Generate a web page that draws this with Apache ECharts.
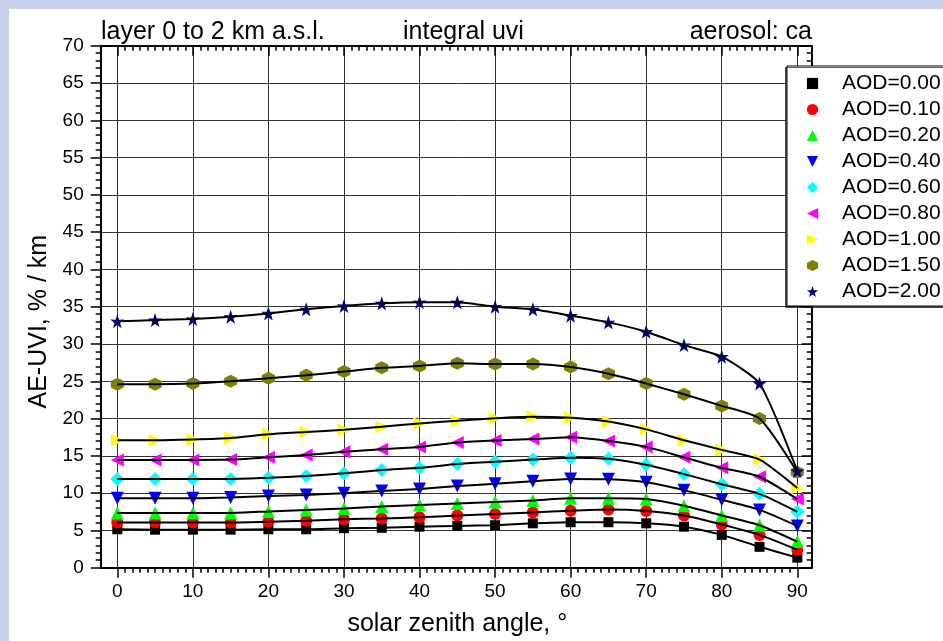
<!DOCTYPE html>
<html><head><meta charset="utf-8">
<script src="https://cdn.jsdelivr.net/npm/echarts@6/dist/echarts.min.js"></script>
<style>
html,body{margin:0;padding:0;background:#c8d0ec;}
#panel{position:absolute;left:9px;top:9px;width:934px;height:632px;background:#fff;}
#chart{position:absolute;left:0;top:0;width:943px;height:641px;}
</style></head><body>
<div id="panel"></div><div id="chart"></div>
<script>
// ---- data ----
const sza = [0,5,10,15,20,25,30,35,40,45,50,55,60,65,70,75,80,85,90];
const aod000 = [5.15,5.1,5.1,5.1,5.15,5.15,5.3,5.35,5.5,5.6,5.7,5.95,6.1,6.1,5.95,5.5,4.4,2.8,1.35];
const aod010 = [6.05,6.05,6.05,6.05,6.15,6.3,6.5,6.6,6.75,7.0,7.2,7.4,7.65,7.8,7.6,7.0,5.8,4.4,2.4];
const aod020 = [7.35,7.35,7.35,7.35,7.55,7.75,7.95,8.2,8.4,8.6,8.8,9.0,9.3,9.3,9.2,8.3,7.0,5.7,3.5];
const aod040 = [9.3,9.3,9.3,9.4,9.6,9.75,10.0,10.3,10.55,10.95,11.25,11.6,11.9,11.85,11.45,10.4,9.1,7.75,5.6];
const aod060 = [11.9,11.9,11.9,11.9,12.05,12.3,12.65,13.1,13.4,13.9,14.2,14.5,14.75,14.6,13.8,12.55,11.2,9.9,7.5];
const aod080 = [14.45,14.45,14.45,14.5,14.8,15.1,15.55,15.9,16.2,16.8,17.05,17.25,17.5,17.0,16.2,14.8,13.4,12.2,9.2];
const aod100 = [17.1,17.1,17.2,17.4,17.9,18.2,18.5,18.9,19.35,19.7,20.05,20.25,20.1,19.6,18.55,17.1,15.8,14.5,10.7];
const aod150 = [24.6,24.6,24.7,25.0,25.4,25.8,26.3,26.8,27.05,27.4,27.3,27.3,26.9,26.0,24.7,23.25,21.7,20.0,12.8];
const aod200 = [33.05,33.2,33.35,33.65,34.1,34.65,35.1,35.45,35.6,35.6,35.0,34.65,33.8,32.9,31.65,29.85,28.3,24.7,12.95];
const seriesNames = ['AOD=0.00','AOD=0.10','AOD=0.20','AOD=0.40','AOD=0.60','AOD=0.80','AOD=1.00','AOD=1.50','AOD=2.00'];
const topTexts = ['layer 0 to 2 km a.s.l.','integral uvi','aerosol: ca'];
const xTitle = 'solar zenith angle, \u00b0';
const yTitle = 'AE-UVI, % / km';

// ---- styles ----
const FONT = '"Liberation Sans", Arial, sans-serif';
const HEX = 'path://M50,0 L93.3,25 L93.3,75 L50,100 L6.7,75 L6.7,25 Z';
const STAR = 'path://M50,0 L61.8,35.1 L97.6,34.5 L69.1,56.7 L79.4,90.5 L50,70 L20.6,90.5 L30.9,56.7 L2.4,34.5 L38.2,35.1 Z';
const values = [aod000,aod010,aod020,aod040,aod060,aod080,aod100,aod150,aod200];
const styles = [
  {color:'#000000', symbol:'rect', size:10, rot:0},
  {color:'#ff0000', symbol:'circle', size:12, rot:0},
  {color:'#00ff00', symbol:'triangle', size:13, rot:0},
  {color:'#0000ff', symbol:'triangle', size:13, rot:180},
  {color:'#00ffff', symbol:'diamond', size:14, rot:0},
  {color:'#ff00ff', symbol:'triangle', size:13, rot:90},
  {color:'#ffff00', symbol:'triangle', size:13, rot:-90},
  {color:'#808000', symbol:HEX, size:13, rot:0},
  {color:'#000080', symbol:STAR, size:14, rot:0}
];

const series = [];
values.forEach((vals, i) => {
  const pts = sza.map((x, j) => [x, vals[j]]);
  const st = styles[i];
  series.push({
    name: seriesNames[i], type:'line', xAxisIndex:0, yAxisIndex:0, data: pts,
    symbol: st.symbol, symbolSize: st.size, symbolRotate: st.rot, showAllSymbol:true,
    itemStyle:{color: st.color, borderWidth:0},
    lineStyle:{opacity:0, width:0.1, color: st.color},
    z:2, silent:true, animation:false
  });
});
values.forEach((vals, i) => {
  const pts = sza.map((x, j) => [x, vals[j]]);
  series.push({
    name: 'fit ' + seriesNames[i], type:'line', xAxisIndex:0, yAxisIndex:0, data: pts,
    showSymbol:false, smooth:0.2,
    lineStyle:{color:'#000', width:2},
    itemStyle:{color:'#000'},
    z:3, silent:true, animation:false
  });
});

const GRID = {top:45.7, bottom:641-567.7, outerBoundsMode:'none'};
const txt = {color:'#000', fontFamily:FONT};

const option = {
  animation:false,
  backgroundColor:'transparent',
  title: [
    {text: topTexts[0], left:101, top:20, padding:0, textStyle:Object.assign({fontSize:25, fontWeight:'normal'}, txt)},
    {text: topTexts[1], left:403, top:20, padding:0, textStyle:Object.assign({fontSize:25, fontWeight:'normal'}, txt)},
    {text: topTexts[2], right:131, top:20, padding:0, textStyle:Object.assign({fontSize:25, fontWeight:'normal'}, txt)}
  ],
  grid: [
    Object.assign({left:117.3, right:943-797.3}, GRID),
    Object.assign({left:100.7, right:943-811.7}, GRID)
  ],
  legend: {
    data: seriesNames, left:787, top:66, orient:'vertical',
    padding:[7,10,4,0], itemGap:5, itemWidth:49, itemHeight:14,
    backgroundColor:'#fff', borderColor:'#000', borderWidth:1,
    shadowColor:'rgba(0,0,0,0.6)', shadowOffsetX:-1.5, shadowOffsetY:1.5, shadowBlur:0,
    selectedMode:false, lineStyle:{opacity:0},
    textStyle:Object.assign({fontSize:21, lineHeight:21}, txt), z:10
  },
  xAxis: [
    { // data axis bottom
      type:'value', gridIndex:0, position:'bottom', min:0, max:90, interval:10,
      axisLine:{show:false},
      axisTick:{show:true, inside:false, length:10, lineStyle:{color:'#000', width:1.5}},
      minorTick:{show:true, splitNumber:10, length:5, lineStyle:{color:'#000', width:1.5}},
      axisLabel:Object.assign({show:true, fontSize:19, margin:15}, txt),
      splitLine:{show:true, lineStyle:{color:'#333', width:1}},
      name: xTitle, nameLocation:'middle', nameGap:44,
      nameTextStyle:Object.assign({fontSize:25}, txt)
    },
    { // data axis top
      type:'value', gridIndex:0, position:'top', min:0, max:90, interval:10,
      axisLine:{show:false},
      axisTick:{show:true, inside:true, length:10, lineStyle:{color:'#000', width:1.5}},
      minorTick:{show:true, splitNumber:10, length:5, lineStyle:{color:'#000', width:1.5}},
      axisLabel:{show:false}, splitLine:{show:false}
    },
    { // frame bottom
      type:'value', gridIndex:1, position:'bottom', min:-2.2, max:92,
      axisLine:{show:true, onZero:false, lineStyle:{color:'#000', width:2}},
      axisTick:{show:false}, axisLabel:{show:false}, splitLine:{show:false}
    },
    { // frame top
      type:'value', gridIndex:1, position:'top', min:-2.2, max:92,
      axisLine:{show:true, onZero:false, lineStyle:{color:'#000', width:2}},
      axisTick:{show:false}, axisLabel:{show:false}, splitLine:{show:false}
    }
  ],
  yAxis: [
    { // data y
      type:'value', gridIndex:0, min:0, max:70, interval:5, show:false
    },
    { // frame left
      type:'value', gridIndex:1, position:'left', min:0, max:70, interval:5,
      axisLine:{show:true, onZero:false, lineStyle:{color:'#000', width:2}},
      axisTick:{show:true, inside:false, length:10, lineStyle:{color:'#000', width:1.5}},
      minorTick:{show:true, splitNumber:5, length:5, lineStyle:{color:'#000', width:1.5}},
      axisLabel:Object.assign({show:true, fontSize:19, margin:17}, txt),
      splitLine:{show:true, lineStyle:{color:'#333', width:1}},
      name: yTitle, nameLocation:'middle', nameGap:48, nameRotate:90,
      nameTextStyle:Object.assign({fontSize:25, padding:[0,30,0,0]}, txt)
    },
    { // frame right
      type:'value', gridIndex:1, position:'right', min:0, max:70, interval:5,
      axisLine:{show:true, onZero:false, lineStyle:{color:'#000', width:2}},
      axisTick:{show:true, inside:true, length:10, lineStyle:{color:'#000', width:1.5}},
      minorTick:{show:true, splitNumber:5, length:5, lineStyle:{color:'#000', width:1.5}},
      axisLabel:{show:false}, splitLine:{show:false}
    }
  ],
  series: series
};
const chart = echarts.init(document.getElementById('chart'), null, {renderer:'canvas'});
chart.setOption(option);
</script>
</body></html>
